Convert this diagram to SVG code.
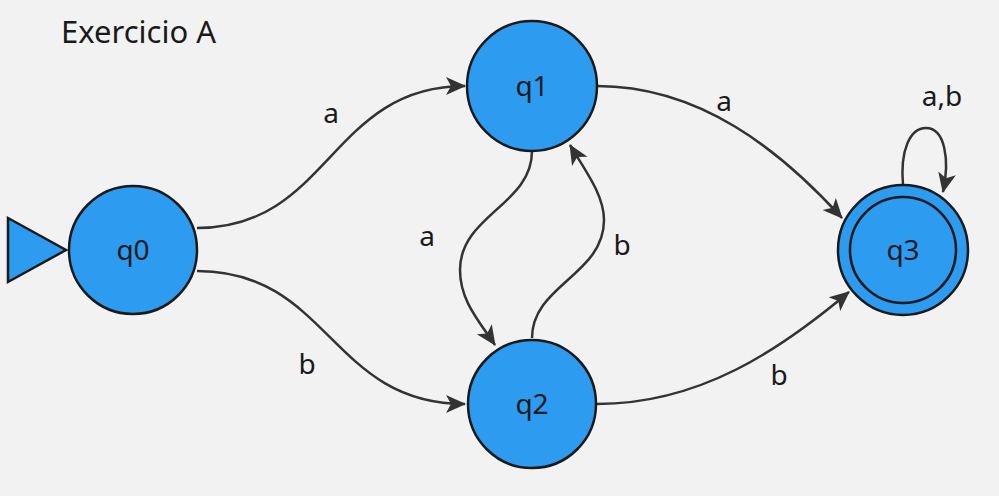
<svg xmlns="http://www.w3.org/2000/svg" width="999" height="496" viewBox="0 0 999 496">
<style>
.st{fill:#2d9bf0;stroke:#1a1a1a;stroke-width:2.5}
.ring{fill:none;stroke:#1a1a1a;stroke-width:2.5}
.nl{font-family:'Noto Sans',sans-serif;font-size:28px;fill:#1a1a1a;text-anchor:middle}
.el{font-family:'Noto Sans',sans-serif;font-size:28px;fill:#1a1a1a;text-anchor:middle}
.e{fill:none;stroke:#333;stroke-width:2.5;marker-end:url(#ah)}
</style>
<defs>
<marker id="ah" markerUnits="userSpaceOnUse" markerWidth="24" markerHeight="22" refX="19" refY="11" orient="auto">
<path d="M0,2 L20,11 L0,20 L5,11 Z" fill="#333"/>
</marker>
</defs>
<rect width="999" height="496" fill="#f2f2f2"/>
<text x="61" y="43" font-family="'Noto Sans',sans-serif" font-size="31" fill="#1a1a1a">Exercicio A</text>
<g id="connectors">
<path class="e" d="M197,228 C330,228 330,86 465,86"/>
<path class="e" d="M197,271 C330,271 330,404 465,404"/>
<path class="e" d="M597,86 C700,86 780,150 842,218"/>
<path class="e" d="M597,404 C700,404 780,350 849,292"/>
<path class="e" d="M532,151 C532,205 460,215 460,270 C460,300 478,320 495,345"/>
<path class="e" d="M532,338 C532,285 604,275 604,220 C604,195 585,170 570,145"/>
<path class="e" d="M903,185 C900,150 910,128 926,128 C945,128 950,160 943,192"/>
<text class="el" x="331" y="123">a</text>
<text class="el" x="307" y="374">b</text>
<text class="el" x="724" y="111">a</text>
<text class="el" x="779" y="385">b</text>
<text class="el" x="427" y="246">a</text>
<text class="el" x="622" y="255">b</text>
<text class="el" x="942" y="106">a,b</text>
</g>
<g id="start"><path class="st" d="M8,218 L66,250 L8,282 Z"/></g>
<g id="q0"><circle class="st" cx="133" cy="250" r="64"/><text class="nl" x="133" y="260">q0</text></g>
<g id="q1"><circle class="st" cx="532" cy="86" r="65"/><text class="nl" x="532" y="96">q1</text></g>
<g id="q2"><circle class="st" cx="532" cy="404" r="64"/><text class="nl" x="532" y="414">q2</text></g>
<g id="q3"><circle class="st" cx="903" cy="250" r="65"/><circle class="ring" cx="903" cy="250" r="53"/><text class="nl" x="903" y="260">q3</text></g>
</svg>
